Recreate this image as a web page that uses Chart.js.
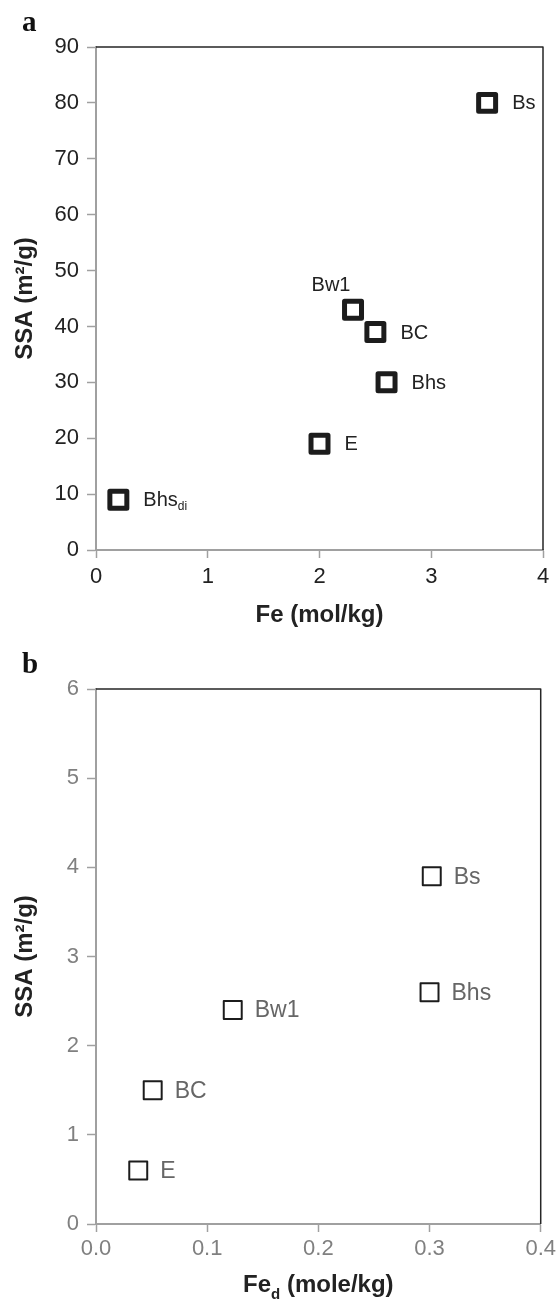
<!DOCTYPE html>
<html>
<head>
<meta charset="utf-8">
<script src="https://cdn.jsdelivr.net/npm/chart.js@4.4.1/dist/chart.umd.min.js"></script>
<style>
  html, body { margin: 0; padding: 0; background: #fff; }
  canvas { display: block; }
</style>
</head>
<body>
<canvas id="chartA" width="560" height="640"></canvas>
<canvas id="chartB" width="560" height="659"></canvas>
<script>
// panel a: total Fe vs SSA
var horizonsA = ['Bs', 'Bw1', 'BC', 'Bhs', 'E', 'Bhs_di'];
var feA = [3.5, 2.3, 2.5, 2.6, 2.0, 0.2];
var ssaA = [80, 43, 39, 30, 19, 9];
var xTicksA = [0, 1, 2, 3, 4];
var yTicksA = [0, 10, 20, 30, 40, 50, 60, 70, 80, 90];

// panel b: dithionite Fe vs SSA
var horizonsB = ['Bs', 'Bw1', 'BC', 'Bhs', 'E'];
var fedB = [0.302, 0.123, 0.051, 0.300, 0.038];
var ssaB = [3.9, 2.4, 1.5, 2.6, 0.6];
var xTicksB = [0.0, 0.1, 0.2, 0.3, 0.4];
var yTicksB = [0, 1, 2, 3, 4, 5, 6];

var SANS = "'Liberation Sans', Arial, sans-serif";

function toPoints(xs, ys) {
  return xs.map(function (x, i) { return { x: x, y: ys[i] }; });
}

// draws a run of text pieces, some of them as subscripts
function drawRuns(ctx, runs, x, y, size, align) {
  var bold = runs.bold ? 'bold ' : '';
  var total = 0;
  runs.parts.forEach(function (p) {
    ctx.font = bold + (p.sub ? Math.round(size * 0.62) : size) + 'px ' + SANS;
    p.w = ctx.measureText(p.t).width;
    total += p.w;
  });
  var cx = align === 'center' ? x - total / 2 : x;
  runs.parts.forEach(function (p) {
    ctx.font = bold + (p.sub ? Math.round(size * 0.62) : size) + 'px ' + SANS;
    ctx.fillText(p.t, cx, p.sub ? y + size * 0.28 : y);
    cx += p.w;
  });
}

function splitLabel(label) {
  var bits = label.split('_');
  var parts = [{ t: bits[0] }];
  if (bits[1]) parts.push({ t: bits[1], sub: true });
  return { parts: parts };
}

var panelPlugin = {
  id: 'panel',
  beforeDatasetsDraw: function (chart) {
    chart.ctx.lineJoin = 'round';
  },
  afterDatasetsDraw: function (chart, args, opts) {
    var ctx = chart.ctx;
    var meta = chart.getDatasetMeta(0);
    ctx.save();
    ctx.fillStyle = opts.labelColor;
    ctx.textBaseline = 'middle';
    opts.labels.forEach(function (label, i) {
      var pt = meta.data[i];
      var runs = splitLabel(label);
      if (opts.above && opts.above.indexOf(label) >= 0) {
        ctx.textBaseline = 'alphabetic';
        drawRuns(ctx, runs, pt.x - 22, pt.y - 19, opts.labelSize, 'center');
        ctx.textBaseline = 'middle';
      } else {
        drawRuns(ctx, runs, pt.x + opts.labelGap, pt.y + 1, opts.labelSize, 'left');
      }
    });
    ctx.restore();
  },
  afterDraw: function (chart, args, opts) {
    var ctx = chart.ctx;
    var a = chart.chartArea;
    ctx.save();
    // top and right frame
    ctx.strokeStyle = '#262626';
    ctx.lineWidth = 1.5;
    ctx.beginPath();
    ctx.moveTo(a.left, a.top);
    ctx.lineTo(a.right, a.top);
    ctx.lineTo(a.right, a.bottom);
    ctx.stroke();

    // panel letter
    ctx.fillStyle = '#111';
    ctx.textBaseline = 'alphabetic';
    ctx.textAlign = 'left';
    ctx.font = "bold 29px 'Liberation Serif', 'Times New Roman', serif";
    ctx.fillText(opts.letter, 22, opts.letterY);

    // x title
    ctx.fillStyle = '#222';
    drawRuns(ctx, { bold: true, parts: opts.xTitle }, (a.left + a.right) / 2, opts.xTitleY, 24, 'center');

    // y title
    ctx.translate(32, (a.top + a.bottom) / 2);
    ctx.rotate(-Math.PI / 2);
    ctx.textAlign = 'center';
    ctx.font = 'bold 24px ' + SANS;
    ctx.fillText('SSA (m\u00b2/g)', 0, 0);
    ctx.restore();
  }
};

function makeChart(id, cfg) {
  return new Chart(document.getElementById(id), {
    type: 'scatter',
    data: {
      datasets: [{
        data: toPoints(cfg.xs, cfg.ys),
        pointStyle: 'rect',
        pointRadius: cfg.radius,
        pointHoverRadius: cfg.radius,
        borderWidth: cfg.stroke,
        pointBorderWidth: cfg.stroke,
        pointBorderColor: '#1c1c1c',
        pointBackgroundColor: '#ffffff'
      }]
    },
    options: {
      responsive: false,
      animation: false,
      events: [],
      layout: { padding: { left: 0, right: 17, top: cfg.top, bottom: 0 } },
      scales: {
        x: {
          type: 'linear',
          min: cfg.xTicks[0],
          max: cfg.xTicks[cfg.xTicks.length - 1],
          afterBuildTicks: function (axis) {
            axis.ticks = cfg.xTicks.map(function (v) { return { value: v }; });
          },
          afterFit: function (axis) { axis.height = cfg.xHeight; },
          border: { color: '#a0a0a0', width: 2 },
          grid: { drawOnChartArea: false, tickLength: 8, tickColor: '#a0a0a0', tickWidth: 1.5 },
          ticks: {
            color: cfg.tickColor,
            padding: cfg.xPad,
            maxRotation: 0,
            font: { family: SANS, size: 22 },
            callback: cfg.xFormat
          }
        },
        y: {
          min: cfg.yTicks[0],
          max: cfg.yTicks[cfg.yTicks.length - 1],
          afterBuildTicks: function (axis) {
            axis.ticks = cfg.yTicks.map(function (v) { return { value: v }; });
          },
          afterFit: function (axis) { axis.width = 96; },
          border: { color: '#a0a0a0', width: 2 },
          grid: { drawOnChartArea: false, tickLength: 9, tickColor: '#a0a0a0', tickWidth: 1.5 },
          ticks: {
            color: cfg.tickColor,
            padding: 8,
            font: { family: SANS, size: 22 }
          }
        }
      },
      plugins: {
        legend: { display: false },
        tooltip: { enabled: false },
        panel: cfg.panel
      }
    },
    plugins: [panelPlugin]
  });
}

makeChart('chartA', {
  xs: feA, ys: ssaA, xTicks: xTicksA, yTicks: yTicksA,
  radius: 12, stroke: 5, top: 47, xHeight: 90, xPad: 6,
  tickColor: '#222',
  xFormat: function (v) { return String(v); },
  panel: {
    letter: 'a', letterY: 31,
    labels: horizonsA, labelColor: '#222', labelSize: 20, labelGap: 25,
    above: ['Bw1'],
    xTitle: [{ t: 'Fe (mol/kg)' }], xTitleY: 622
  }
});

makeChart('chartB', {
  xs: fedB, ys: ssaB, xTicks: xTicksB, yTicks: yTicksB,
  radius: 12.7, stroke: 2, top: 49, xHeight: 75, xPad: 4,
  tickColor: '#808080',
  xFormat: function (v) { return Number(v).toFixed(1); },
  panel: {
    letter: 'b', letterY: 33,
    labels: horizonsB, labelColor: '#666', labelSize: 23, labelGap: 22,
    xTitle: [{ t: 'Fe' }, { t: 'd', sub: true }, { t: ' (mole/kg)' }], xTitleY: 652
  }
});
</script>
</body>
</html>
